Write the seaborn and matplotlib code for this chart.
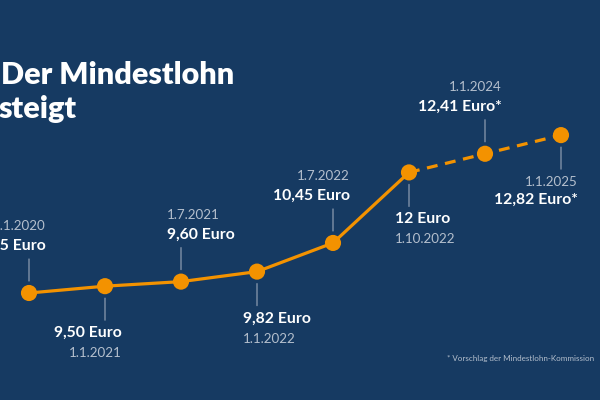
import matplotlib
matplotlib.use("Agg")
import matplotlib.pyplot as plt
import seaborn as sns
import pandas as pd

dates = ["1.1.2020", "1.1.2021", "1.7.2021", "1.1.2022", "1.7.2022", "1.10.2022", "1.1.2024", "1.1.2025"]
values = [9.35, 9.50, 9.60, 9.82, 10.45, 12.00, 12.41, 12.82]
value_labels = ["9,35 Euro", "9,50 Euro", "9,60 Euro", "9,82 Euro", "10,45 Euro", "12 Euro", "12,41 Euro*", "12,82 Euro*"]
positions = ["above", "below", "above", "below", "above", "below", "above", "below"]
aligns = ["right", "right", "left", "left", "right", "left", "right", "right"]
n_actual = 6  # first six values are confirmed, last two proposed

BG = "#163a62"
ORANGE = "#f39200"
GREY = "#b4bfcd"

sns.set_theme(style="white")
plt.rcParams["font.family"] = ["Lato", "DejaVu Sans"]

df = pd.DataFrame({"idx": range(len(values)), "value": values})

fig = plt.figure(figsize=(6, 4), dpi=100, facecolor=BG)
ax = fig.add_axes([0, 0, 1, 1])
ax.set_facecolor(BG)

solid = df.iloc[:n_actual]
dashed = df.iloc[n_actual - 1:]
sns.lineplot(data=solid, x="idx", y="value", ax=ax, color=ORANGE, linewidth=2.3)
sns.lineplot(data=dashed, x="idx", y="value", ax=ax, color=ORANGE, linewidth=2.3,
             linestyle=(0, (3.4, 2.4)))
sns.scatterplot(data=df, x="idx", y="value", ax=ax, color=ORANGE, s=135,
                edgecolor="none", zorder=5)

px = 0.72  # points per pixel at dpi 100
for i, (d, v, lab, pos, al) in enumerate(zip(dates, values, value_labels, positions, aligns)):
    sgn = 1 if pos == "above" else -1
    xo = 17 if al == "right" else -14
    ax.annotate("", xy=(i, v), xycoords="data",
                xytext=(0, sgn * 34 * px), textcoords="offset points",
                arrowprops=dict(arrowstyle="-", color="#8c9bb0", lw=0.9,
                                shrinkA=0, shrinkB=12 * px))
    if i == len(values) - 1:
        d_off, v_off = 47, 65
    else:
        v_off, d_off = 47, 67
    ax.annotate(lab, xy=(i, v), xytext=(xo * px, sgn * v_off * px),
                textcoords="offset points", ha=al, va="center",
                color="white", fontsize=11.3, fontweight="bold")
    ax.annotate(d, xy=(i, v), xytext=(xo * px, sgn * d_off * px),
                textcoords="offset points", ha=al, va="center",
                color=GREY, fontsize=9.6, fontweight="normal")

ax.set_xlim(-29 / 76, (600 - 29) / 76)
ax.set_ylim(9.35 - 107 / 45.5, 9.35 + 293 / 45.5)
ax.set_axis_off()

fig.text(1 / 600, 1 - 84 / 400, "Der Mindestlohn", color="white", fontsize=22,
         fontweight="heavy", ha="left", va="baseline")
fig.text(-1 / 600, 1 - 118 / 400, "steigt", color="white", fontsize=22,
         fontweight="heavy", ha="left", va="baseline")
fig.text(447 / 600, 1 - 358 / 400, "* Vorschlag der Mindestlohn-Kommission",
         color=GREY, fontsize=5.8, ha="left", va="center")

fig.savefig("out.png", dpi=100, facecolor=BG)
